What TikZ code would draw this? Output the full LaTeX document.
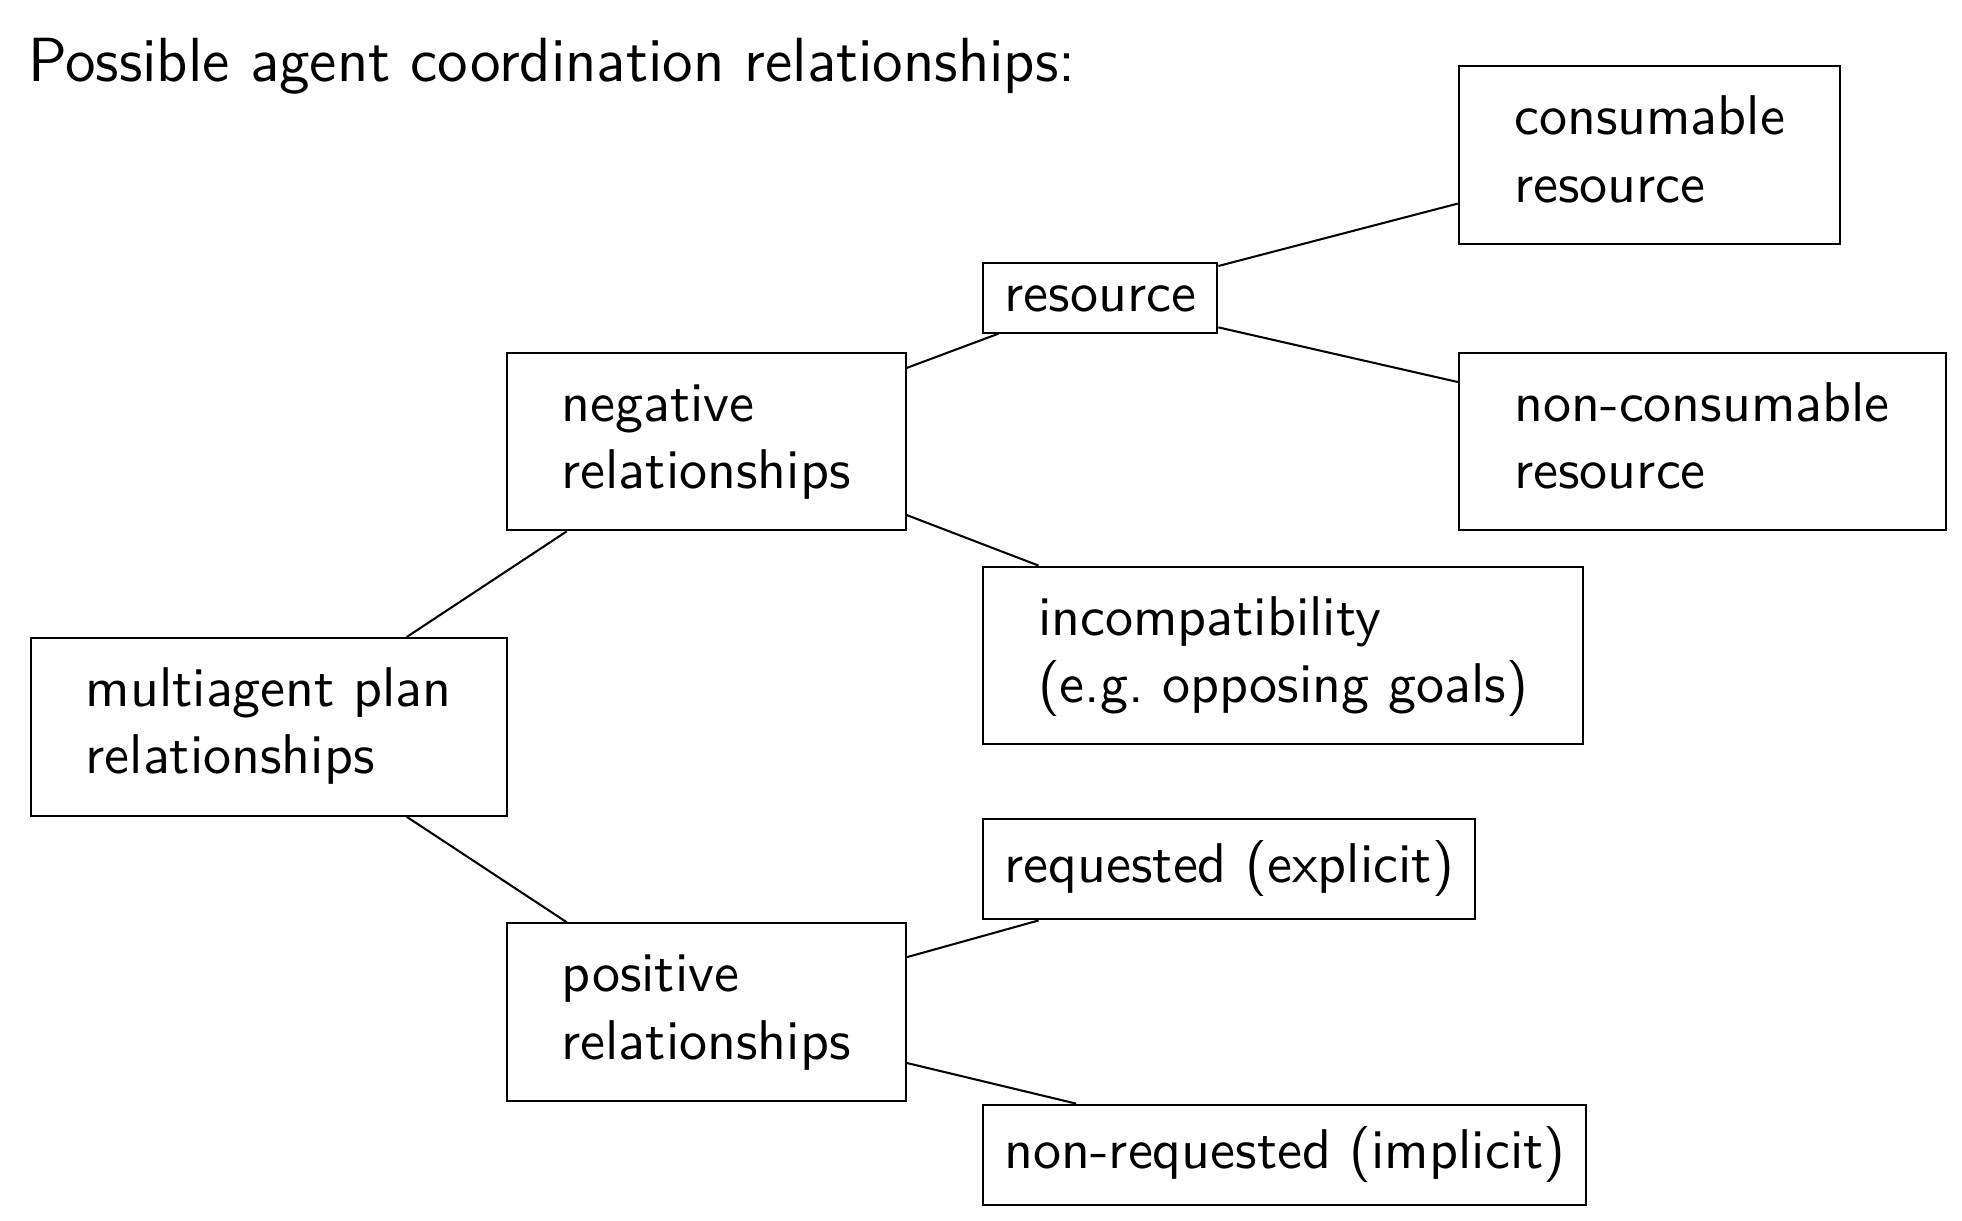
\documentclass[tikz,border=0pt]{standalone}
\usetikzlibrary{calc}
\begin{document}
\begin{tikzpicture}[x=0.19554pt,y=-0.19554pt,
  every node/.style={font=\sffamily\fontsize{10.95}{13.14}\selectfont, inner sep=0pt},
  box/.style={draw, line width=0.4pt, anchor=north west, align=left},
  link/.style={line width=0.4pt}]
\useasboundingbox (0,0) rectangle (1962,1220);
\node[anchor=base west, font=\sffamily\fontsize{12.2}{14.6}\selectfont] (title) at (27,81) {Possible agent coordination relationships:};
\node[box, minimum width=92.98pt, minimum height=34.75pt] (ma) at (30,637) {\strut multiagent plan\\relationships\strut};
\node[box, minimum width=78.06pt, minimum height=34.75pt] (neg) at (505.5,351.6) {\strut negative\\relationships\strut};
\node[box, minimum width=78.06pt, minimum height=34.75pt] (pos) at (505.5,922.2) {\strut positive\\relationships\strut};
\node[box, minimum width=45.76pt, minimum height=13.71pt] (res) at (982.3,261.5) {\strut resource};
\node[box, minimum width=74.64pt, minimum height=34.75pt] (con) at (1457.7,65.1) {\strut consumable\\resource\strut};
\node[box, minimum width=95.19pt, minimum height=34.75pt] (ncon) at (1457.7,351.6) {\strut non-consumable\\resource\strut};
\node[box, minimum width=117.19pt, minimum height=34.75pt] (inc) at (982.3,565.6) {\strut incompatibility\\(e.g.\ opposing goals)\strut};
\node[box, minimum width=96.17pt, minimum height=19.57pt] (req) at (982.3,818.3) {\strut requested (explicit)};
\node[box, minimum width=117.93pt, minimum height=19.57pt] (nreq) at (982.3,1103.6) {\strut non-requested (implicit)};
\draw[link] ($(ma.north west)+(376.7,0)$) -- ($(neg.south west)+(61.2,0)$);
\draw[link] ($(ma.south west)+(376.7,0)$) -- ($(pos.north west)+(61.2,0)$);
\draw[link] ($(neg.north east)+(0,16.3)$) -- ($(res.south west)+(16.2,0)$);
\draw[link] ($(neg.south east)+(0,-16.3)$) -- ($(inc.north west)+(56.3,0)$);
\draw[link] ($(res.north east)+(0,4.5)$) -- ($(con.north west)+(0,138.5)$);
\draw[link] ($(res.south east)+(0,-6.3)$) -- ($(ncon.north west)+(0,30.4)$);
\draw[link] ($(pos.north east)+(0,35)$) -- ($(req.south west)+(56.3,0)$);
\draw[link] ($(pos.south east)+(0,-39)$) -- ($(nreq.north west)+(93.8,0)$);
\end{tikzpicture}
\end{document}
